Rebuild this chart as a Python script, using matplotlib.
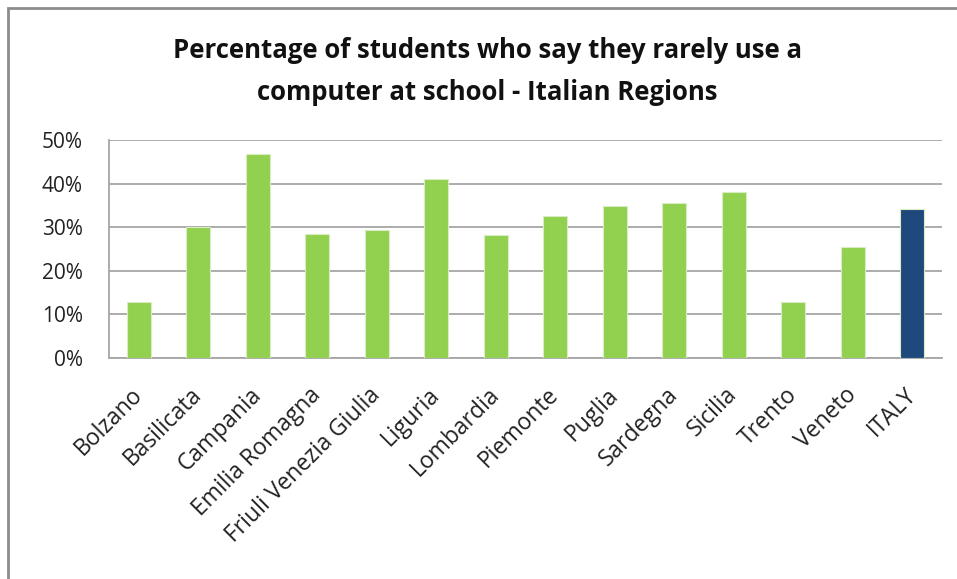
import matplotlib.pyplot as plt
from matplotlib.patches import Rectangle
from matplotlib.ticker import PercentFormatter

#######################################
# Data
#######################################
regions = ['Bolzano', 'Basilicata', 'Campania', 'Emilia Romagna',
           'Friuli Venezia Giulia', 'Liguria', 'Lombardia', 'Piemonte',
           'Puglia', 'Sardegna', 'Sicilia', 'Trento', 'Veneto', 'ITALY']
pct = [12.8, 30.0, 46.9, 28.4, 29.3, 41.0, 28.1, 32.5,
       34.8, 35.5, 38.1, 12.8, 25.4, 34.2]
yticks = [0, 10, 20, 30, 40, 50]

green = '#92D050'
navy = '#1F497D'
grid_c = '#A6A6A6'

plt.rcParams['font.family'] = ['Open Sans', 'DejaVu Sans']

#######################################
# Figure
#######################################
fig = plt.figure(figsize=[9.57, 5.79], dpi=100)
ax = fig.add_axes([0.1139, 0.3817, 0.8704, 0.3765])

# Outer chart border (left and top edge visible)
fig.patches.append(Rectangle((8/957, -0.05), 1.2, 1 - 8/579 + 0.05,
                             transform=fig.transFigure, fill=False,
                             edgecolor='#8C8C8C', linewidth=2))

colors = [navy if r == 'ITALY' else green for r in regions]
x = range(len(regions))
ax.bar(x, pct, width=0.41, color=colors, edgecolor='#D8EDC0', linewidth=0.8, zorder=3)

ax.set_xlim(-0.5, len(regions) - 0.5)
ax.set_ylim(0, 50)
ax.set_yticks(yticks)
ax.yaxis.set_major_formatter(PercentFormatter(decimals=0))
ax.grid(axis='y', color=grid_c, linewidth=1.3, zorder=0)
ax.tick_params(axis='both', length=0, colors='#222222')
ax.tick_params(axis='y', pad=19, labelsize=15)

for s in ['top', 'right']:
    ax.spines[s].set_visible(False)
for s in ['left', 'bottom']:
    ax.spines[s].set_color(grid_c)
    ax.spines[s].set_linewidth(1.3)

ax.set_xticks(list(x))
ax.set_xticklabels(regions, rotation=45, ha='right', va='center',
                   rotation_mode='anchor')
ax.tick_params(axis='x', pad=24, labelsize=16.5)

fig.text(0.509, 0.8765, 'Percentage of students who say they rarely use a\ncomputer at school - Italian Regions',
         ha='center', va='center', fontsize=18.5, fontweight='bold',
         linespacing=1.7, color='#111111')

plt.savefig('out.png', dpi=100)
